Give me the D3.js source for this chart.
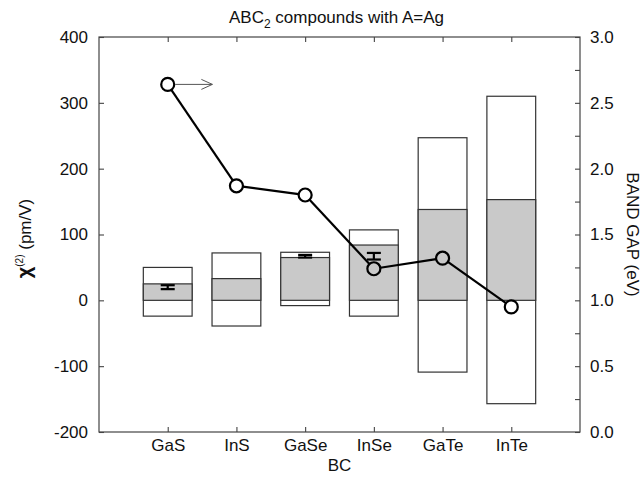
<!DOCTYPE html>
<html>
<head>
<meta charset="utf-8">
<script src="https://cdn.jsdelivr.net/npm/d3@7/dist/d3.min.js"></script>
<style>
  html, body { margin: 0; padding: 0; background: #fff; }
  svg { display: block; font-family: "Liberation Sans", Arial, Helvetica, sans-serif; }
</style>
</head>
<body>
<svg id="chart" width="642" height="482"></svg>
<script>
// BC partners of the ABC2 chalcopyrites with A = Ag
const categories = ["GaS", "InS", "GaSe", "InSe", "GaTe", "InTe"];

// chi(2) range per compound (pm/V): full box from lower to upper, shaded part from 0
const chiUpper  = [50, 72, 73, 107, 247, 310];
const chiLower  = [-24, -39, -8, -24, -109, -157];
const chiShaded = [25, 33, 65, 84, 138, 153];

// measured chi(2) with uncertainty (pm/V)
const chiMeasured    = [20, null, 67, 67, null, null];
const chiMeasuredErr = [3, null, 2, 5, null, null];

// band gap (eV), right axis
const bandGap = [2.64, 1.87, 1.80, 1.24, 1.32, 0.95];

// axis ticks
const chiTicks = [-200, -100, 0, 100, 200, 300, 400];
const gapTicks = [0.0, 0.5, 1.0, 1.5, 2.0, 2.5, 3.0];
const gapMinorTicks = [0.25, 0.75, 1.25, 1.75, 2.25, 2.75];

// the arrow next to the first band-gap point reaches this x position
const arrowEnd = 1.65;

const svg = d3.select("#chart");
const plotLeft = 99, plotRight = 580, plotTop = 37, plotBottom = 432;
const axisColor = "#444";

const x  = d3.scaleLinear().domain([0, categories.length + 1]).range([plotLeft, plotRight]);
const yL = d3.scaleLinear().domain([-200, 400]).range([plotBottom, plotTop]);
const yR = d3.scaleLinear().domain([0, 3]).range([plotBottom, plotTop]);

const halfW = 0.355; // half the box width, in category units

// boxes
const boxes = svg.append("g");
categories.forEach((c, i) => {
  const xc = i + 1;
  const x0 = x(xc - halfW), x1 = x(xc + halfW);
  boxes.append("rect")
    .attr("x", x0).attr("y", yL(chiUpper[i]))
    .attr("width", x1 - x0).attr("height", yL(chiLower[i]) - yL(chiUpper[i]))
    .attr("fill", "#fff").attr("stroke", "#333").attr("stroke-width", 1.2);
  boxes.append("rect")
    .attr("x", x0).attr("y", yL(chiShaded[i]))
    .attr("width", x1 - x0).attr("height", yL(0) - yL(chiShaded[i]))
    .attr("fill", "#c9c9c9").attr("stroke", "#333").attr("stroke-width", 1.2);
});

// measured values with error bars
const errs = svg.append("g").attr("stroke", "#000").attr("stroke-width", 2.2);
categories.forEach((c, i) => {
  if (chiMeasured[i] == null) return;
  const xc = x(i + 1);
  const hi = yL(chiMeasured[i] + chiMeasuredErr[i]);
  const lo = yL(chiMeasured[i] - chiMeasuredErr[i]);
  errs.append("line").attr("x1", xc).attr("x2", xc).attr("y1", hi).attr("y2", lo);
  errs.append("line").attr("x1", xc - 7).attr("x2", xc + 7).attr("y1", hi).attr("y2", hi);
  errs.append("line").attr("x1", xc - 7).attr("x2", xc + 7).attr("y1", lo).attr("y2", lo);
});

// band gap line: segments stop at the edge of each open circle
const r = 6.5;
const pts = bandGap.map((g, i) => [x(i + 1), yR(g)]);
const gapG = svg.append("g");
for (let i = 0; i < pts.length - 1; i++) {
  const [ax, ay] = pts[i], [bx, by] = pts[i + 1];
  const len = Math.hypot(bx - ax, by - ay);
  const ux = (bx - ax) / len, uy = (by - ay) / len;
  gapG.append("line")
    .attr("x1", ax + ux * r).attr("y1", ay + uy * r)
    .attr("x2", bx - ux * r).attr("y2", by - uy * r)
    .attr("stroke", "#000").attr("stroke-width", 2.2);
}
gapG.selectAll("circle").data(pts).join("circle")
  .attr("cx", d => d[0]).attr("cy", d => d[1]).attr("r", r)
  .attr("fill", "none").attr("stroke", "#000").attr("stroke-width", 2.2);

// arrow pointing to the band-gap axis
const ax0 = pts[0][0] + r + 1, ay0 = pts[0][1], ax1 = x(arrowEnd);
const arrow = svg.append("g").attr("stroke", "#555").attr("stroke-width", 1).attr("fill", "none");
arrow.append("line").attr("x1", ax0).attr("x2", ax1).attr("y1", ay0).attr("y2", ay0);
arrow.append("path").attr("d", `M${ax1 - 11},${ay0 - 5}L${ax1},${ay0}L${ax1 - 11},${ay0 + 5}`);

// frame
svg.append("rect").attr("x", plotLeft).attr("y", plotTop)
  .attr("width", plotRight - plotLeft).attr("height", plotBottom - plotTop)
  .attr("fill", "none").attr("stroke", axisColor).attr("stroke-width", 1.2);

function styleAxis(g) {
  g.select(".domain").remove();
  g.selectAll(".tick line").attr("stroke", axisColor).attr("stroke-width", 1.1);
  g.selectAll("text").attr("fill", "#111").style("font-size", "17px")
    .style("font-family", "'Liberation Sans', Arial, Helvetica, sans-serif");
}

svg.append("g").attr("transform", `translate(${plotLeft},0)`)
  .call(d3.axisLeft(yL).tickValues(chiTicks).tickFormat(d => String(d))
    .tickSizeInner(-5).tickSizeOuter(0).tickPadding(11))
  .call(styleAxis);

svg.append("g").attr("transform", `translate(${plotRight},0)`)
  .call(d3.axisRight(yR).tickValues(gapTicks).tickFormat(d => d.toFixed(1))
    .tickSizeInner(-5).tickSizeOuter(0).tickPadding(10))
  .call(styleAxis);

svg.append("g").attr("transform", `translate(${plotRight},0)`)
  .call(d3.axisRight(yR).tickValues(gapMinorTicks).tickFormat("")
    .tickSizeInner(-5).tickSizeOuter(0))
  .call(styleAxis);

const catTicks = categories.map((c, i) => i + 1);
svg.append("g").attr("transform", `translate(0,${plotBottom})`)
  .call(d3.axisBottom(x).tickValues(catTicks).tickFormat(d => categories[d - 1])
    .tickSizeInner(-5).tickSizeOuter(0).tickPadding(7))
  .call(styleAxis);

svg.append("g").attr("transform", `translate(0,${plotTop})`)
  .call(d3.axisTop(x).tickValues(catTicks).tickFormat("")
    .tickSizeInner(-5).tickSizeOuter(0))
  .call(styleAxis);

// titles
const title = svg.append("text")
  .attr("x", (plotLeft + plotRight) / 2 - 3).attr("y", 23)
  .attr("text-anchor", "middle").style("font-size", "17px").attr("fill", "#111");
title.append("tspan").text("ABC");
title.append("tspan").attr("dy", 5).style("font-size", "12px").text("2");
title.append("tspan").attr("dy", -5).text(" compounds with A=Ag");

svg.append("text")
  .attr("x", (plotLeft + plotRight) / 2).attr("y", 471)
  .attr("text-anchor", "middle").style("font-size", "17px").attr("fill", "#111")
  .text("BC");

const yLabel = svg.append("text")
  .attr("transform", `translate(31,${(plotTop + plotBottom) / 2 + 4}) rotate(-90)`)
  .attr("text-anchor", "middle").style("font-size", "17px").attr("fill", "#111");
yLabel.append("tspan").style("font-size", "20px").style("font-weight", "bold").text("χ");
yLabel.append("tspan").attr("dy", -8).style("font-size", "10px").text("(2)");
yLabel.append("tspan").attr("dy", 8).text(" (pm/V)");

svg.append("text")
  .attr("transform", `translate(627,${(plotTop + plotBottom) / 2}) rotate(90)`)
  .attr("text-anchor", "middle").style("font-size", "17px").attr("fill", "#111")
  .text("BAND GAP (eV)");
</script>
</body>
</html>
